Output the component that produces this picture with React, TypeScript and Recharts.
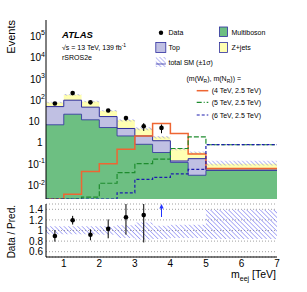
import { Area, CartesianGrid, ComposedChart, ErrorBar, Line, Scatter, XAxis, YAxis } from 'recharts'

const FONT = "'Liberation Sans', Arial, Helvetica, sans-serif"

// bins in m_eej [TeV]
const BIN_EDGES = [0.5, 1, 1.5, 2, 2.5, 3, 3.5, 4, 4.5, 5, 7]

// background expectation per bin (events)
const MULTIBOSON = [7, 22, 12, 5.2, 2.1, 0.85, 0.35, 0.12, 0.03, 0.05]
const TOP = [43, 78, 35, 11.8, 2.6, 1.25, 0.9, 0.02, 0.15, 0.003]
const ZJETS = [28, 80, 39, 15, 6.9, 2.55, 0.65, 0.38, 0.17, 0.05]

// relative total SM uncertainty (low / high)
const UNC_LO = [0.93, 0.93, 0.93, 0.92, 0.86, 0.83, 0.84, 0.86, 0.86, 0.84]
const UNC_HI = [1.08, 1.08, 1.08, 1.08, 1.1, 1.15, 1.09, 1.11, 1.11, 1.39]

// signals (m(W_R), m(N_R))
const SIG_4_25 = [0.0023, 0.0038, 0.045, 0.105, 0.5, 2.1, 8.1, 2.7, 0.3, 0.062]
const SIG_5_25 = [0.0023, 0.0023, 0.0028, 0.0126, 0.04, 0.105, 0.17, 0.54, 1.9, 0.81]
const SIG_6_25 = [0.0023, 0.0023, 0.0023, 0.0023, 0.0045, 0.019, 0.024, 0.035, 0.057, 0.82]

// data
const DATA_X = [0.75, 1.25, 1.75, 2.25, 2.75, 3.25, 3.75]
const DATA = [70, 215, 79, 33, 14.5, 6, 5]
const DATA_ERR = [8.4, 14.7, 8.9, 5.7, 3.8, 2.4, 2.2]

const X_DOMAIN = [0.5, 7]
const Y_DOMAIN = [0.0023, 580000]
const R_DOMAIN = [0.5, 1.5]

const X_MAJOR = [1, 2, 3, 4, 5, 6, 7]
const X_MINOR: number[] = []
for (let k = 3; k <= 35; k++) if (k % 5 !== 0) X_MINOR.push(k / 5)

const Y_DECADES = [1e-2, 1e-1, 1, 10, 100, 1e3, 1e4, 1e5]
const Y_MINOR: number[] = []
for (let e = -3; e <= 5; e++)
  for (let k = 2; k <= 9; k++) {
    const v = k * Math.pow(10, e)
    if (v > Y_DOMAIN[0] && v < Y_DOMAIN[1]) Y_MINOR.push(v)
  }

const R_MAJOR = [0.6, 0.8, 1, 1.2, 1.4]
const R_MINOR: number[] = []
for (let k = 10; k <= 30; k++) if (k % 4 !== 0) R_MINOR.push(Math.round(k * 5) / 100)

const GREEN = '#6dbf82'
const LAVENDER = '#c0c0e3'
const YELLOW = '#ffffb2'
const OUTLINE = '#2d2d9e'
const ORANGE = '#ee6633'
const SIG_GREEN = '#1e8c2e'
const NAVY = '#1c1cae'
const HATCH = '#6666ee'

const totals = MULTIBOSON.map((g, i) => g + TOP[i] + ZJETS[i])

const rows = BIN_EDGES.map((x, i) => {
  const b = Math.min(i, totals.length - 1)
  return {
    x,
    total: totals[b],
    gt: MULTIBOSON[b] + TOP[b],
    g: MULTIBOSON[b],
    s4: SIG_4_25[b],
    s5: SIG_5_25[b],
    s6: SIG_6_25[b],
    band: [totals[b] * UNC_LO[b], totals[b] * UNC_HI[b]],
    rband: [UNC_LO[b], UNC_HI[b]],
  }
})

const dataPts = DATA_X.map((x, i) => ({ x, y: DATA[i], err: DATA_ERR[i] }))

const ratioAll = DATA_X.map((x, i) => ({
  x,
  y: DATA[i] / totals[i],
  e: DATA_ERR[i] / totals[i],
}))
// error bars stop at the frame of the ratio panel
const ratioPts = ratioAll
  .filter((p) => p.y <= R_DOMAIN[1])
  .map((p) => ({ x: p.x, y: p.y, err: [Math.min(p.e, p.y - R_DOMAIN[0]), Math.min(p.e, R_DOMAIN[1] - p.y)] }))
const ratioOver = ratioAll.filter((p) => p.y > R_DOMAIN[1]).map((p) => ({ x: p.x, y: R_DOMAIN[1] }))

const EmptyTick = () => <g />

const DataDot = (props: any) => <circle cx={props.cx} cy={props.cy} r={2.3} fill="#000" />

const UpArrow = (props: any) => {
  const { cx, cy } = props
  return (
    <g>
      <path d={`M${cx},${cy} L${cx - 2.2},${cy + 4.5} L${cx + 2.2},${cy + 4.5} Z`} fill="#2233ff" />
      <line x1={cx} y1={cy + 4} x2={cx} y2={cy + 13} stroke="#2233ff" strokeWidth={1} />
    </g>
  )
}

const LogTick = (props: any) => {
  const { x, y, payload } = props
  const e = Math.round(Math.log10(payload.value))
  const style = { fontFamily: FONT, fontSize: 10, fill: '#000' }
  if (e === 0)
    return (
      <text x={x - 2.5} y={y + 3.7} textAnchor="end" style={style}>
        1
      </text>
    )
  if (e === 1)
    return (
      <text x={x - 5.5} y={y + 3.7} textAnchor="end" style={style}>
        10
      </text>
    )
  return (
    <text x={x} y={y + 3.7} textAnchor="end" style={style}>
      10<tspan dy={-4.5} fontSize={7}>{e}</tspan>
    </text>
  )
}

const RatioTick = (props: any) => (
  <text x={props.x} y={props.y + 3.6} textAnchor="end" style={{ fontFamily: FONT, fontSize: 10, fill: '#000' }}>
    {String(props.payload.value)}
  </text>
)

const XTick = (props: any) => (
  <text x={props.x} y={props.y + 10} textAnchor="middle" style={{ fontFamily: FONT, fontSize: 10, fill: '#000' }}>
    {String(props.payload.value)}
  </text>
)

function frameAxes(yScale: 'log' | 'linear', yDomain: number[], yMaj: number[], yMin: number[], yMajLen: number, yMinLen: number) {
  const ax = { type: 'number' as const, allowDataOverflow: true, mirror: true, tick: EmptyTick, interval: 0 as const }
  const line = { stroke: '#000', strokeWidth: 1 }
  return [
    <XAxis key="bmin" xAxisId="bmin" orientation="bottom" height={0} domain={X_DOMAIN} ticks={X_MINOR} tickSize={2.5} tickLine={line} axisLine={false} {...ax} />,
    <XAxis key="tmaj" xAxisId="tmaj" orientation="top" height={0} domain={X_DOMAIN} ticks={X_MAJOR} tickSize={5} tickLine={line} axisLine={line} {...ax} />,
    <XAxis key="tmin" xAxisId="tmin" orientation="top" height={0} domain={X_DOMAIN} ticks={X_MINOR} tickSize={2.5} tickLine={line} axisLine={false} {...ax} />,
    <YAxis key="lmaj" yAxisId="lmaj" orientation="left" width={0} scale={yScale} domain={yDomain} ticks={yMaj} tickSize={yMajLen} tickLine={line} axisLine={false} {...ax} />,
    <YAxis key="lmin" yAxisId="lmin" orientation="left" width={0} scale={yScale} domain={yDomain} ticks={yMin} tickSize={yMinLen} tickLine={line} axisLine={false} {...ax} />,
    <YAxis key="rmaj" yAxisId="rmaj" orientation="right" width={0} scale={yScale} domain={yDomain} ticks={yMaj} tickSize={yMajLen} tickLine={line} axisLine={line} {...ax} />,
    <YAxis key="rmin" yAxisId="rmin" orientation="right" width={0} scale={yScale} domain={yDomain} ticks={yMin} tickSize={yMinLen} tickLine={line} axisLine={false} {...ax} />,
  ]
}

function MainPanel() {
  const ids = { xAxisId: 'x', yAxisId: 'y', isAnimationActive: false }
  return (
    <ComposedChart width={307} height={200} data={rows} margin={{ top: 20, right: 30, bottom: 1, left: 0 }}>
      <defs>
        <pattern id="hatchU" width={3} height={3} patternUnits="userSpaceOnUse" patternTransform="rotate(-45)">
          <line x1={0} y1={0} x2={0} y2={3} stroke={HATCH} strokeWidth={0.9} />
        </pattern>
      </defs>
      <Area {...ids} dataKey="total" type="stepAfter" fill={YELLOW} fillOpacity={1} stroke="none" baseValue={Y_DOMAIN[0]} dot={false} activeDot={false} />
      <Area {...ids} dataKey="gt" type="stepAfter" fill={LAVENDER} fillOpacity={1} stroke={OUTLINE} strokeWidth={1} baseValue={Y_DOMAIN[0]} dot={false} activeDot={false} />
      <Area {...ids} dataKey="g" type="stepAfter" fill={GREEN} fillOpacity={1} stroke={OUTLINE} strokeWidth={0.8} baseValue={Y_DOMAIN[0]} dot={false} activeDot={false} />
      <Area {...ids} dataKey="band" type="stepAfter" fill="url(#hatchU)" fillOpacity={1} stroke="none" dot={false} activeDot={false} />
      <Line {...ids} dataKey="s4" type="stepAfter" stroke={ORANGE} strokeWidth={1.5} dot={false} activeDot={false} />
      <Line {...ids} dataKey="s5" type="stepAfter" stroke={SIG_GREEN} strokeWidth={1.2} strokeDasharray="5 2" dot={false} activeDot={false} />
      <Line {...ids} dataKey="s6" type="stepAfter" stroke={NAVY} strokeWidth={1.2} strokeDasharray="3 2" dot={false} activeDot={false} />
      <Scatter {...ids} data={dataPts} dataKey="y" shape={DataDot}>
        <ErrorBar dataKey="err" direction="y" width={0} stroke="#000" strokeWidth={1} />
      </Scatter>
      <XAxis xAxisId="x" dataKey="x" type="number" domain={X_DOMAIN} allowDataOverflow orientation="bottom" mirror height={0} ticks={X_MAJOR} interval={0} tick={EmptyTick} tickSize={5} tickLine={{ stroke: '#000' }} axisLine={{ stroke: '#000' }} />
      <YAxis yAxisId="y" type="number" scale="log" domain={Y_DOMAIN} allowDataOverflow width={46} ticks={Y_DECADES} interval={0} tick={LogTick} tickSize={0} tickMargin={1} tickLine={false} axisLine={{ stroke: '#000' }} />
      {frameAxes('log', Y_DOMAIN, Y_DECADES, Y_MINOR, 7, 3.5)}
    </ComposedChart>
  )
}

function RatioPanel() {
  const ids = { xAxisId: 'x', yAxisId: 'y', isAnimationActive: false }
  return (
    <ComposedChart width={307} height={292} data={rows} margin={{ top: 204, right: 30, bottom: 0, left: 0 }}>
      <defs>
        <pattern id="hatchR" width={3.2} height={3.2} patternUnits="userSpaceOnUse" patternTransform="rotate(-45)">
          <line x1={0} y1={0} x2={0} y2={3.2} stroke={HATCH} strokeWidth={1} />
        </pattern>
      </defs>
      <CartesianGrid xAxisId="x" yAxisId="y" vertical={false} stroke="#a0a0a0" strokeDasharray="1 2" />
      <Area {...ids} dataKey="rband" type="stepAfter" fill="url(#hatchR)" fillOpacity={1} stroke="none" dot={false} activeDot={false} />
      <Scatter {...ids} data={ratioPts} dataKey="y" shape={DataDot}>
        <ErrorBar dataKey="err" direction="y" width={0} stroke="#000" strokeWidth={1} />
      </Scatter>
      <Scatter {...ids} data={ratioOver} dataKey="y" shape={UpArrow} />
      <XAxis xAxisId="x" dataKey="x" type="number" domain={X_DOMAIN} allowDataOverflow height={35} ticks={X_MAJOR} interval={0} tick={XTick} tickSize={0} tickMargin={0} tickLine={false} axisLine={{ stroke: '#000' }} />
      <XAxis xAxisId="bmaj" type="number" domain={X_DOMAIN} allowDataOverflow mirror height={0} ticks={X_MAJOR} interval={0} tick={EmptyTick} tickSize={5} tickLine={{ stroke: '#000' }} axisLine={false} />
      <YAxis yAxisId="y" type="number" domain={R_DOMAIN} allowDataOverflow width={46} ticks={R_MAJOR} interval={0} tick={RatioTick} tickSize={0} tickMargin={3} tickLine={false} axisLine={{ stroke: '#000' }} />
      {frameAxes('linear', R_DOMAIN, R_MAJOR, R_MINOR, 5, 2.5)}
    </ComposedChart>
  )
}

function Overlay() {
  const t = { fontFamily: FONT, fill: '#000' }
  return (
    <svg width={307} height={292} style={{ position: 'absolute', left: 0, top: 0, pointerEvents: 'none' }}>
      <defs>
        <pattern id="hatchL" width={3} height={3} patternUnits="userSpaceOnUse" patternTransform="rotate(-45)">
          <line x1={0} y1={0} x2={0} y2={3} stroke={HATCH} strokeWidth={0.9} />
        </pattern>
      </defs>
      <text transform="translate(15,20) rotate(-90)" textAnchor="end" style={{ ...t, fontSize: 11 }}>Events</text>
      <text transform="translate(15,205) rotate(-90)" textAnchor="end" style={{ ...t, fontSize: 10 }}>Data / Pred.</text>
      <text x={276} y={278} textAnchor="end" style={{ ...t, fontSize: 10.5 }}>
        m<tspan dy={2.5} fontSize={7}>eej</tspan><tspan dy={-2.5}> [TeV]</tspan>
      </text>

      <text x={62} y={37.5} style={{ ...t, fontSize: 9.5, fontWeight: 'bold', fontStyle: 'italic' }}>ATLAS</text>
      <text x={62} y={49.5} style={{ ...t, fontSize: 7 }}>
        √s = 13 TeV, 139 fb<tspan dy={-3} fontSize={5}>-1</tspan>
      </text>
      <text x={62} y={60} style={{ ...t, fontSize: 7 }}>rSROS2e</text>

      <circle cx={161} cy={32.7} r={2.2} fill="#000" />
      <text x={168.5} y={35.2} style={{ ...t, fontSize: 7 }}>Data</text>
      <rect x={219.5} y={27} width={8} height={9.5} fill={GREEN} stroke={OUTLINE} strokeWidth={0.8} />
      <text x={231.5} y={35.2} style={{ ...t, fontSize: 7 }}>Multiboson</text>
      <rect x={155.8} y={42.5} width={10} height={10} fill={LAVENDER} stroke={OUTLINE} strokeWidth={0.8} />
      <text x={168.5} y={50} style={{ ...t, fontSize: 7 }}>Top</text>
      <rect x={219.5} y={42.5} width={8} height={10} fill={YELLOW} stroke={OUTLINE} strokeWidth={0.8} />
      <text x={231.5} y={50} style={{ ...t, fontSize: 7 }}>Z+jets</text>
      <rect x={155.8} y={57} width={10} height={10} fill="url(#hatchL)" />
      <line x1={155.8} y1={64} x2={165.8} y2={64} stroke={OUTLINE} strokeWidth={0.8} />
      <text x={168.5} y={65} style={{ ...t, fontSize: 7 }}>total SM (±1σ)</text>

      <text x={186.5} y={81} style={{ ...t, fontSize: 7 }}>
        (m(W<tspan dy={1.8} fontSize={5}>R</tspan><tspan dy={-1.8}>), m(N</tspan><tspan dy={1.8} fontSize={5}>R</tspan><tspan dy={-1.8}>)) =</tspan>
      </text>
      <line x1={196.7} y1={90.7} x2={208.3} y2={90.7} stroke={ORANGE} strokeWidth={1.5} />
      <text x={211.7} y={93.2} style={{ ...t, fontSize: 7 }}>(4 TeV, 2.5 TeV)</text>
      <line x1={196.7} y1={102.3} x2={208.3} y2={102.3} stroke={SIG_GREEN} strokeWidth={1.2} strokeDasharray="5 2 1 2" />
      <text x={211.7} y={104.8} style={{ ...t, fontSize: 7 }}>(5 TeV, 2.5 TeV)</text>
      <line x1={196.7} y1={115} x2={208.3} y2={115} stroke={NAVY} strokeWidth={1.2} strokeDasharray="3 2" />
      <text x={211.7} y={117.5} style={{ ...t, fontSize: 7 }}>(6 TeV, 2.5 TeV)</text>
    </svg>
  )
}

export default function App() {
  return (
    <div style={{ position: 'absolute', left: 0, top: 0, width: 307, height: 292, background: '#fff', fontFamily: FONT }}>
      <div style={{ position: 'absolute', left: 0, top: 0 }}>
        <MainPanel />
      </div>
      <div style={{ position: 'absolute', left: 0, top: 0 }}>
        <RatioPanel />
      </div>
      <Overlay />
    </div>
  )
}
